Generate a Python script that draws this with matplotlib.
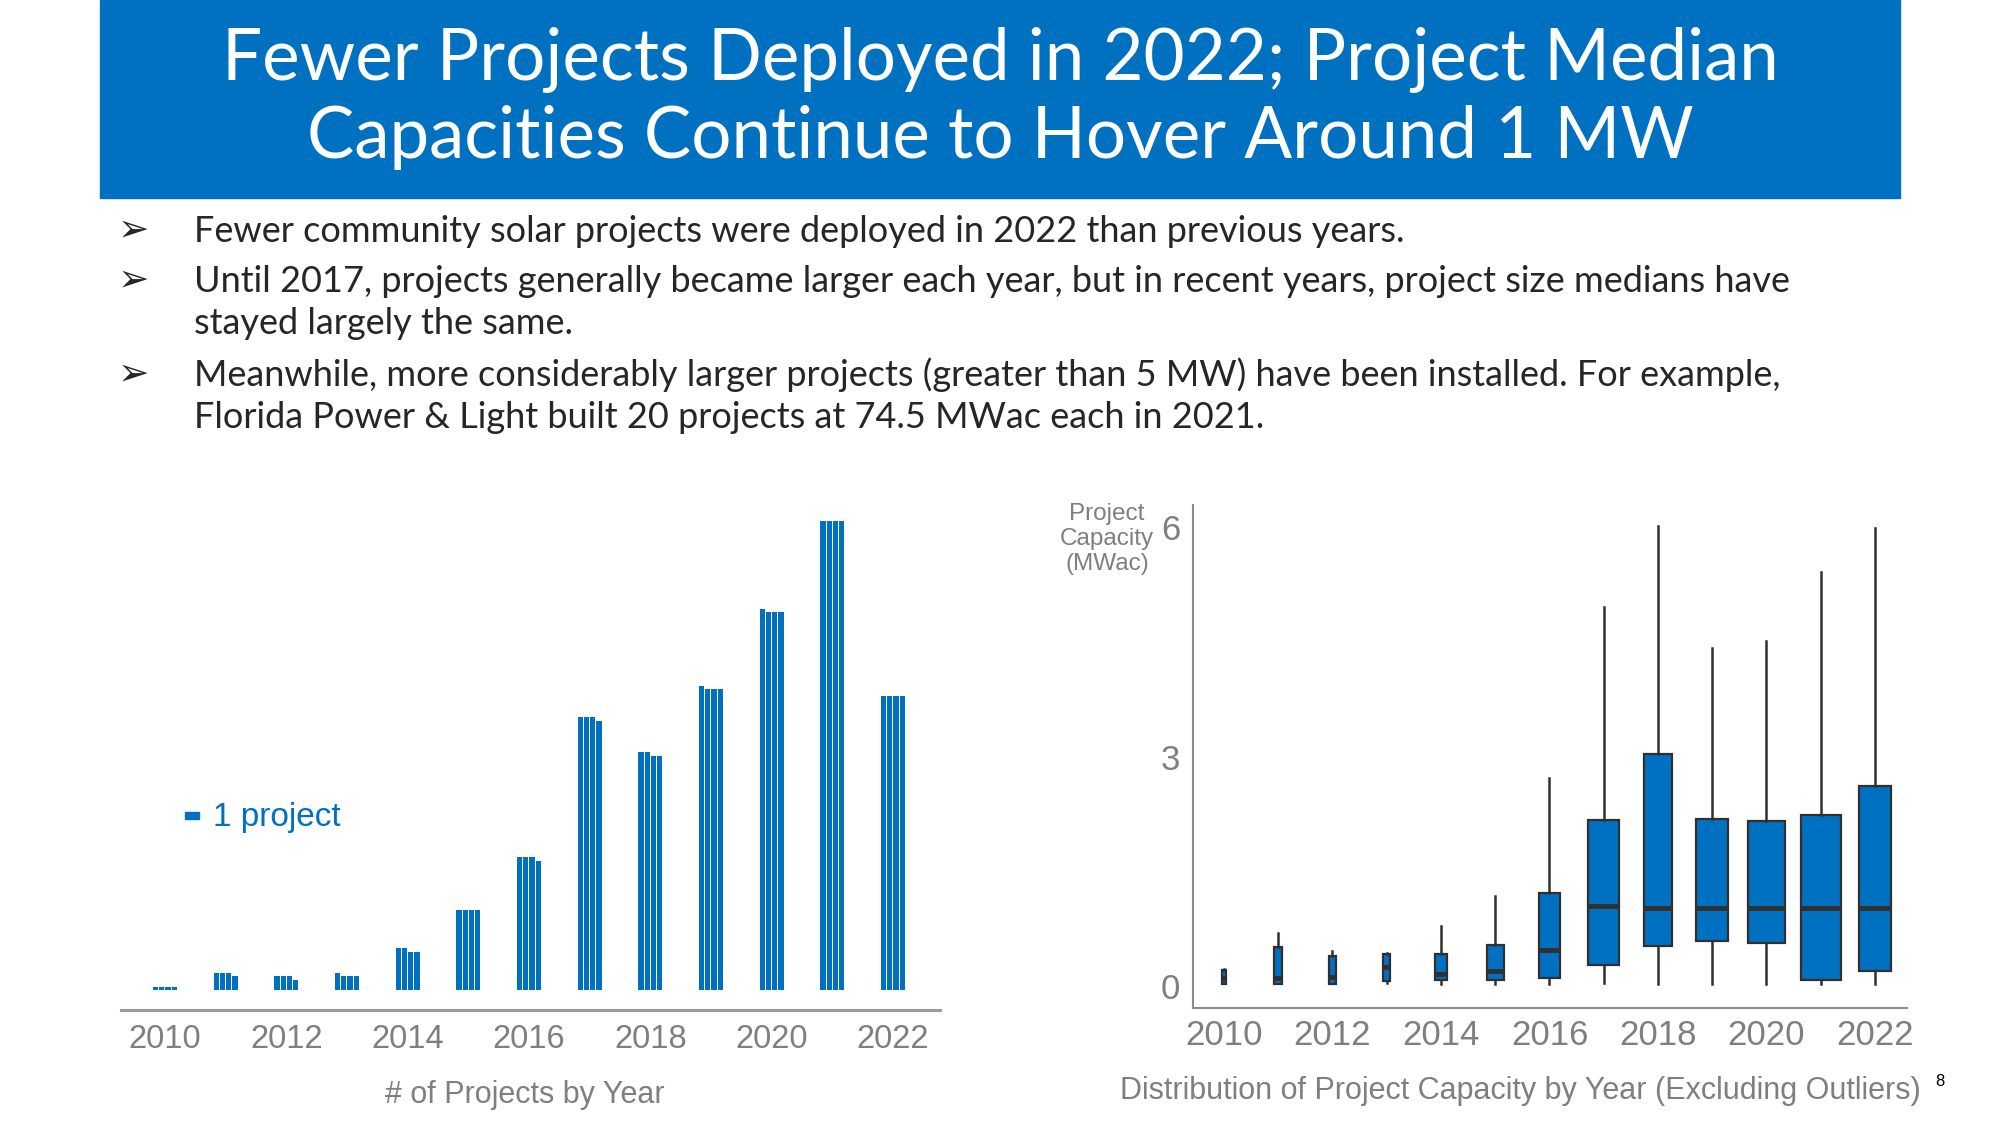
import numpy as np
import matplotlib
matplotlib.use("Agg")
import matplotlib.pyplot as plt
from matplotlib.patches import Rectangle

# --- data ---------------------------------------------------------------
years = [2010, 2011, 2012, 2013, 2014, 2015, 2016, 2017, 2018, 2019, 2020, 2021, 2022]
n_projects = [4, 19, 15, 17, 46, 92, 151, 311, 270, 345, 433, 536, 336]

# box statistics of project capacity (MWac), outliers excluded
whis_lo = [0.02, 0.02, 0.02, 0.04, 0.03, 0.03, 0.03, 0.04, 0.03, 0.03, 0.03, 0.03, 0.03]
q1      = [0.03, 0.03, 0.03, 0.06, 0.07, 0.07, 0.10, 0.27, 0.52, 0.59, 0.56, 0.08, 0.19]
median  = [0.10, 0.10, 0.12, 0.25, 0.16, 0.19, 0.47, 1.05, 1.02, 1.02, 1.02, 1.02, 1.02]
q3      = [0.21, 0.51, 0.39, 0.42, 0.42, 0.53, 1.22, 2.17, 3.03, 2.18, 2.15, 2.23, 2.61]
whis_hi = [0.22, 0.69, 0.45, 0.43, 0.78, 1.17, 2.72, 4.96, 6.02, 4.42, 4.51, 5.42, 5.99]

title_lines = ["Fewer Projects Deployed in 2022; Project Median",
               "Capacities Continue to Hover Around 1 MW"]
bullets = [
    ["Fewer community solar projects were deployed in 2022 than previous years."],
    ["Until 2017, projects generally became larger each year, but in recent years, project size medians have",
     "stayed largely the same."],
    ["Meanwhile, more considerably larger projects (greater than 5 MW) have been installed. For example,",
     "Florida Power & Light built 20 projects at 74.5 MWac each in 2021."],
]

BLUE = "#0070C0"
GREY = "#7f7f7f"
W, H = 2000, 1125


def px(x, y):
    # pixel position (from top left) -> figure fraction
    return x / W, 1 - y / H


fig = plt.figure(figsize=(20, 11.25), dpi=100)
fig.patch.set_facecolor("white")

# header band + title
fig.patches.append(Rectangle(px(99.5, 198), 1800.5 / W, 198 / H,
                             transform=fig.transFigure, color=BLUE, zorder=0))
for line, y in zip(title_lines, [60, 137]):
    fig.text(*px(1000, y), line, ha="center", va="center", color="white",
             fontsize=51, family=["Lato", "DejaVu Sans"])

# bullets
y_lines = iter([231, 281, 323, 375, 418])
for item in bullets:
    for k, line in enumerate(item):
        y = next(y_lines)
        if k == 0:
            fig.text(*px(134, y), "\u27a2", ha="center", va="center",
                     fontsize=27, color="#262626", family="DejaVu Sans")
        fig.text(*px(194, y), line, ha="left", va="center", fontsize=26,
                 color="#262626", family=["Lato", "DejaVu Sans"])

# --- left: number of projects (4-wide waffle columns) ------------------
row_px = 3.5
ax1 = fig.add_axes([121 / W, 1 - 1010 / H, 819 / W, 510 / H])
ax1.set_xlim(2009.275, 2022.775)
ax1.set_ylim(-20 / row_px, -20 / row_px + 510 / row_px)

offsets = (np.arange(4) - 1.5) * 0.102
for yr, n in zip(years, n_projects):
    full, rem = divmod(n, 4)
    heights = [full + (1 if j < rem else 0) for j in range(4)]
    ax1.bar(yr + offsets, heights, width=0.086, color=BLUE, linewidth=0)

for s in ["top", "right", "left"]:
    ax1.spines[s].set_visible(False)
ax1.spines["bottom"].set_color("#9a9a9a")
ax1.spines["bottom"].set_linewidth(2.2)
ax1.set_yticks([])
ax1.set_xticks(range(2010, 2023, 2))
ax1.tick_params(axis="x", length=0, pad=10, labelsize=23.5, labelcolor=GREY)
for lab in ax1.get_xticklabels():
    lab.set_family(["Liberation Sans", "DejaVu Sans"])

# "1 project" key
fig.patches.append(Rectangle(px(185, 819), 14 / W, 7 / H,
                             transform=fig.transFigure, color=BLUE))
fig.text(*px(213, 826), "1 project", ha="left", va="baseline", fontsize=24,
         color=BLUE, family=["Liberation Sans", "DejaVu Sans"])
fig.text(*px(525, 1095), "# of Projects by Year", ha="center", va="center",
         fontsize=22, color=GREY, family=["Liberation Sans", "DejaVu Sans"])

# --- right: capacity distribution --------------------------------------
ax2 = fig.add_axes([1193 / W, 1 - 1008 / H, 714 / W, 503 / H])
stats = [dict(med=m, q1=a, q3=b, whislo=lo, whishi=hi, fliers=[])
         for m, a, b, lo, hi in zip(median, q1, q3, whis_lo, whis_hi)]
nmax = max(n_projects)
widths = [0.74 * np.sqrt(n / nmax) for n in n_projects]
ax2.bxp(stats, positions=years, widths=widths, patch_artist=True,
        showcaps=False, showfliers=False,
        boxprops=dict(facecolor=BLUE, edgecolor="#303030", linewidth=1.6),
        medianprops=dict(color="#303030", linewidth=3.5, solid_capstyle="butt"),
        whiskerprops=dict(color="#303030", linewidth=1.8))
ax2.set_xlim(2009.43, 2022.59)
ax2.set_ylim(-0.29, 6.29)
ax2.set_xticks(range(2010, 2023, 2))
ax2.set_xticklabels([str(y) for y in range(2010, 2023, 2)])
ax2.set_yticks([0, 3, 6])
for s in ["top", "right"]:
    ax2.spines[s].set_visible(False)
for s in ["left", "bottom"]:
    ax2.spines[s].set_color("#8c8c8c")
    ax2.spines[s].set_linewidth(1.5)
ax2.tick_params(axis="both", length=0, labelsize=25, labelcolor=GREY)
ax2.tick_params(axis="x", pad=8)
ax2.tick_params(axis="y", pad=9)
for lab in ax2.get_xticklabels() + ax2.get_yticklabels():
    lab.set_family(["Liberation Sans", "DejaVu Sans"])

fig.text(*px(1107, 539), "Project\nCapacity\n(MWac)", ha="center", va="center",
         fontsize=17.5, color=GREY, linespacing=1.2,
         family=["Liberation Sans", "DejaVu Sans"])
fig.text(*px(1520, 1091), "Distribution of Project Capacity by Year (Excluding Outliers)",
         ha="center", va="center", fontsize=22, color=GREY,
         family=["Liberation Sans", "DejaVu Sans"])
fig.text(*px(1940, 1082), "8", ha="center", va="center", fontsize=12,
         color="black", family=["Liberation Sans", "DejaVu Sans"])

fig.savefig("out.png", dpi=100)
